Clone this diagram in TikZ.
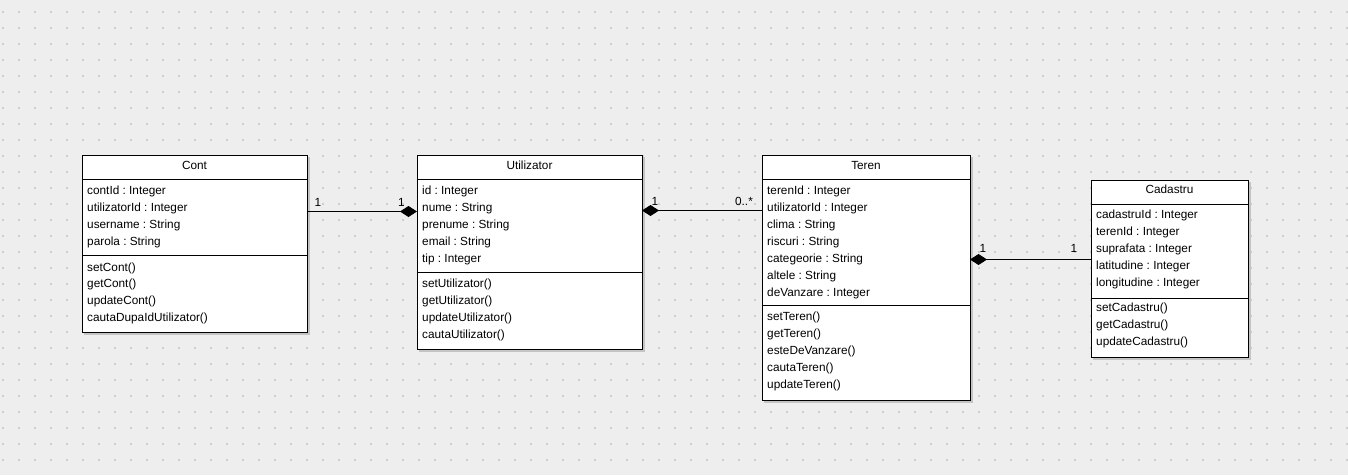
\documentclass[tikz,border=0pt]{standalone}
\usepackage{fontspec}
\setmainfont{Liberation Sans}
\usetikzlibrary{arrows.meta}
\definecolor{bgc}{HTML}{EEEEEE}
\definecolor{dotc}{HTML}{CDCDCD}
\definecolor{shc}{HTML}{C4C4C4}
\newcommand{\fsz}{\fontsize{11.8}{14}\selectfont\frenchspacing}
\frenchspacing
\begin{document}
\begin{tikzpicture}[x=1pt,y=-1pt,
  cls/.style={draw=black, fill=white, line width=1pt, anchor=north west, inner sep=0pt, outer sep=0pt},
  shd/.style={fill=shc},
  sep/.style={line width=1pt, black},
  txt/.style={anchor=base west, inner sep=0pt, font=\fsz},
  ttl/.style={anchor=base, inner sep=0pt, font=\fsz},
  mult/.style={anchor=base, inner sep=0pt, font=\fsz},
  conn/.style={line width=1pt, black}
]
\useasboundingbox (0,0) rectangle (1348,475);
\fill[bgc] (0,0) rectangle (1348,475);
\foreach \i in {0,...,84}
  \foreach \j in {0,...,28}
    \fill[dotc] (2+16*\i,11+16*\j) rectangle +(2,2);

% ---------- Cont ----------
\fill[shd] (84,157) rectangle (310,335);
\node[cls, minimum width=225pt, minimum height=177pt] (cont) at (82,155) {};
\draw[sep] (cont.west |- 0,179.5) -- (cont.east |- 0,179.5);
\draw[sep] (cont.west |- 0,255.5) -- (cont.east |- 0,255.5);
\node[ttl] (cont-t) at (194.5,169.5) {Cont};
\foreach \t [count=\i] in {contId : Integer, utilizatorId : Integer, username : String, parola : String}
  \node[txt] (cont-a\i) at (87,194.5+17*\i-17) {\t};
\foreach \t [count=\i] in {setCont(), getCont(), updateCont(), cautaDupaIdUtilizator()}
  \node[txt] (cont-m\i) at (87,271+16.7*\i-16.7) {\t};

% ---------- Utilizator ----------
\fill[shd] (419,157) rectangle (645,352);
\node[cls, minimum width=225pt, minimum height=194pt] (util) at (417,155) {};
\draw[sep] (util.west |- 0,179.5) -- (util.east |- 0,179.5);
\draw[sep] (util.west |- 0,272) -- (util.east |- 0,272);
\node[ttl] (util-t) at (529.5,169.5) {Utilizator};
\foreach \t [count=\i] in {id : Integer, nume : String, prenume : String, email : String, tip : Integer}
  \node[txt] (util-a\i) at (422,194.5+17*\i-17) {\t};
\foreach \t [count=\i] in {setUtilizator(), getUtilizator(), updateUtilizator(), cautaUtilizator()}
  \node[txt] (util-m\i) at (422,287.5+16.9*\i-16.9) {\t};

% ---------- Teren ----------
\fill[shd] (764,157) rectangle (973,403);
\node[cls, minimum width=208pt, minimum height=245pt] (teren) at (762,155) {};
\draw[sep] (teren.west |- 0,179.5) -- (teren.east |- 0,179.5);
\draw[sep] (teren.west |- 0,305) -- (teren.east |- 0,305);
\node[ttl] (teren-t) at (866,169.5) {Teren};
\foreach \t [count=\i] in {terenId : Integer, utilizatorId : Integer, clima : String, riscuri : String, categeorie : String, altele : String, deVanzare : Integer}
  \node[txt] (teren-a\i) at (767,194.5+17*\i-17) {\t};
\foreach \t [count=\i] in {setTeren(), getTeren(), esteDeVanzare(), cautaTeren(), updateTeren()}
  \node[txt] (teren-m\i) at (767,320.2+17*\i-17) {\t};

% ---------- Cadastru ----------
\fill[shd] (1093,182) rectangle (1251,360);
\node[cls, minimum width=157pt, minimum height=177pt] (cad) at (1091,180) {};
\draw[sep] (cad.west |- 0,204.5) -- (cad.east |- 0,204.5);
\draw[sep] (cad.west |- 0,298) -- (cad.east |- 0,298);
\node[ttl] (cad-t) at (1169.5,193.5) {Cadastru};
\foreach \t [count=\i] in {cadastruId : Integer, terenId : Integer, suprafata : Integer, latitudine : Integer, longitudine : Integer}
  \node[txt] (cad-a\i) at (1096,218.8+17*\i-17) {\t};
\foreach \t [count=\i] in {setCadastru(), getCadastru(), updateCadastru()}
  \node[txt] (cad-m\i) at (1096,311.8+17*\i-17) {\t};

% ---------- Connectors ----------
\draw[conn, -{Diamond[length=17pt,width=11pt]}] (cont.east |- 0,211.5) -- (util.west |- 0,211.5);
\draw[conn, {Diamond[length=17pt,width=11pt]}-] (util.east |- 0,210.5) -- (teren.west |- 0,210.5);
\draw[conn, {Diamond[length=17pt,width=11pt]}-] (teren.east |- 0,259.5) -- (cad.west |- 0,259.5);

\node[mult] (m1a) at (318,206) {1};
\node[mult] (m1b) at (401.5,206) {1};
\node[mult] (m2a) at (655,205.5) {1};
\node[mult] (m2b) at (744,205.5) {0..*};
\node[mult] (m3a) at (983,252) {1};
\node[mult] (m3b) at (1074,252) {1};
\end{tikzpicture}
\end{document}
